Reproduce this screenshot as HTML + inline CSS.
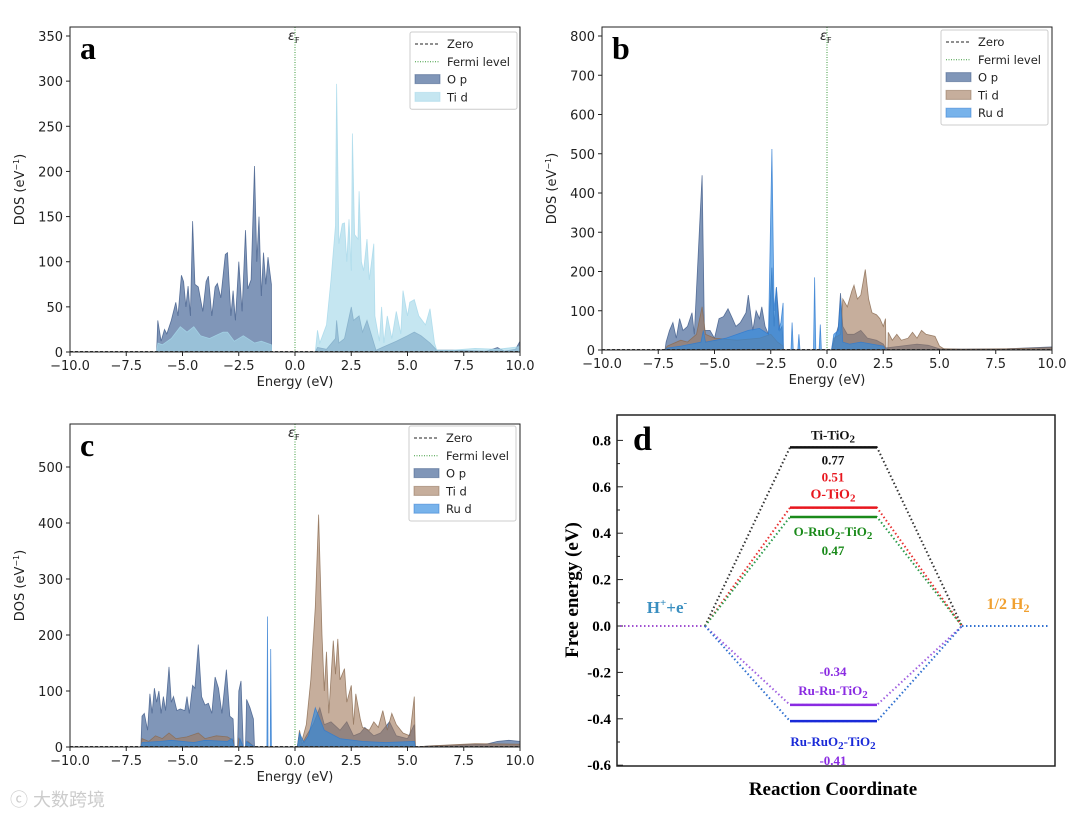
<!DOCTYPE html>
<html><head><meta charset="utf-8">
<style>
html,body{margin:0;padding:0;background:#fff;}
svg{display:block;font-family:"DejaVu Sans","Liberation Sans",sans-serif;}
</style></head>
<body>
<svg id="fig" width="1080" height="818" viewBox="0 0 1080 818">
<text x="10" y="806" font-size="18" fill="#ccc" font-family="'Liberation Sans','Noto Sans CJK SC',sans-serif">ⓒ 大数跨境</text>
</svg>
<script>
// ---------- Panel a data ----------
const aOpE=[-10,-6.15,-6.1,-5.95,-5.8,-5.7,-5.5,-5.3,-5.2,-5.05,-4.95,-4.85,-4.75,-4.65,-4.55,-4.45,-4.3,-4.1,-3.95,-3.85,-3.7,-3.55,-3.45,-3.3,-3.1,-3.0,-2.85,-2.75,-2.65,-2.5,-2.35,-2.2,-2.1,-1.95,-1.8,-1.7,-1.6,-1.5,-1.4,-1.3,-1.2,-1.05,-1.04,0.9,1.0,1.4,1.8,1.85,1.95,2.2,2.5,2.6,2.85,3.0,3.2,3.5,3.6,4.5,5.0,5.3,5.6,6.0,6.3,7,8.5,9,9.3,9.8,10];
const aOpV=[0,0,35,12,25,20,35,55,40,85,78,50,73,40,145,75,72,45,78,84,40,72,76,60,108,110,40,68,35,100,45,135,70,80,206,100,150,62,110,75,105,75,0,0,5,3,15,35,10,15,50,35,40,22,35,10,2,12,18,22,18,10,2,2,1,5,1,3,12];
const aTiE=[-10,-6.15,-6.1,-5.9,-5.5,-5.1,-4.8,-4.5,-4.2,-3.8,-3.2,-3.0,-2.7,-2.3,-1.8,-1.5,-1.05,-1.04,0.9,1.0,1.1,1.4,1.6,1.8,1.85,1.95,2.1,2.2,2.3,2.4,2.5,2.55,2.65,2.8,2.85,2.95,3.05,3.2,3.3,3.5,3.55,3.75,3.85,3.95,4.1,4.3,4.5,4.7,4.8,5.0,5.1,5.3,5.5,5.8,6.0,6.2,6.3,7,8,9,10];
const aTiV=[0,0,10,8,15,28,22,28,18,15,22,22,12,18,10,12,8,0,0,24,10,30,80,140,297,120,142,143,100,147,90,242,130,125,178,100,90,125,80,120,40,12,50,10,40,15,45,20,68,40,55,58,40,30,48,10,2,2,4,3,6];
// ---------- Panel b data ----------
const bOpE=[-10,-7.2,-7.15,-7.0,-6.85,-6.7,-6.55,-6.4,-6.2,-6.0,-5.9,-5.55,-5.45,-5.2,-5.0,-4.8,-4.6,-4.4,-4.2,-4.05,-3.85,-3.6,-3.5,-3.3,-3.15,-3.0,-2.9,-2.75,-2.6,-2.45,-2.35,-2.25,-2.1,-2.0,-1.95,-1.94,0.2,0.3,0.5,0.6,0.7,0.9,1.2,1.5,1.8,2.2,2.5,2.6,3.0,4.0,4.5,5.0,6,8,10];
const bOpV=[0,0,20,50,70,30,80,50,60,95,40,445,50,50,30,80,85,105,80,60,70,95,140,50,100,80,110,60,40,210,60,160,50,60,20,0,0,20,60,145,60,40,40,50,30,25,15,5,8,15,12,3,2,3,8];
const bTiE=[-10,-7.2,-7.1,-6.5,-6.2,-5.8,-5.55,-5.4,-5.0,-4.0,-3.0,-2.5,-2.2,-1.95,-1.94,0.2,0.3,0.6,0.7,0.9,1.1,1.2,1.35,1.5,1.7,1.85,2.0,2.2,2.35,2.5,2.6,2.62,2.7,2.72,2.9,3.1,3.3,3.6,3.8,4.0,4.2,4.4,4.8,5.0,5.2,6,8,10];
const bTiV=[0,0,10,25,20,40,110,40,30,25,30,40,20,10,0,0,30,40,130,110,150,165,130,140,205,130,95,90,80,60,80,0,0,45,25,40,25,30,45,30,50,40,35,10,3,2,3,6];
const bRuE=[-10,-7.2,-7.1,-6.5,-5.6,-5.5,-5.4,-4.5,-3.5,-3.0,-2.6,-2.45,-2.35,-2.25,-2.15,-2.05,-1.95,-1.94,-1.6,-1.55,-1.5,-1.3,-1.25,-1.2,-0.6,-0.55,-0.5,-0.35,-0.3,-0.25,0.2,0.3,0.5,0.6,0.7,1.0,1.5,2.5,2.6,10];
const bRuV=[0,0,5,10,20,50,20,30,50,55,40,512,100,160,50,70,120,0,0,70,0,0,40,0,0,185,0,0,65,0,0,40,50,130,20,15,20,10,0,0];
// ---------- Panel c data ----------
const cOpE=[-10,-6.85,-6.8,-6.7,-6.55,-6.45,-6.35,-6.25,-6.15,-6.05,-5.95,-5.85,-5.75,-5.6,-5.5,-5.4,-5.25,-5.1,-4.9,-4.8,-4.7,-4.55,-4.45,-4.3,-4.15,-4.0,-3.85,-3.7,-3.55,-3.4,-3.25,-3.05,-2.9,-2.75,-2.7,-2.55,-2.5,-2.4,-2.3,-2.2,-2.15,-2.0,-1.85,-1.8,0.1,0.2,0.3,0.5,0.8,1.1,1.3,1.6,2.0,2.3,2.6,2.9,3.1,3.5,3.8,4.2,4.5,5.0,5.3,5.35,6,7.5,8.5,9,9.5,10];
const cOpV=[0,0,55,60,30,95,60,105,80,100,60,90,65,143,80,90,65,68,65,90,60,110,105,183,90,75,78,60,125,105,60,138,55,50,0,0,100,118,0,0,85,70,50,0,0,25,5,20,40,70,40,45,30,45,20,25,35,20,25,45,20,15,40,0,2,4,5,10,12,10];
const cTiE=[-10,-6.85,-6.8,-6.5,-6.2,-5.9,-5.6,-5.3,-4.8,-4.3,-4.0,-3.5,-3.0,-2.75,-2.7,-2.55,-2.5,-2.3,-2.2,-2.1,-1.8,0.1,0.2,0.3,0.5,0.7,0.9,1.05,1.2,1.3,1.4,1.5,1.7,1.8,1.9,2.0,2.2,2.3,2.5,2.6,2.7,2.9,3.0,3.3,3.5,3.7,3.9,4.1,4.3,4.5,4.8,5.1,5.3,5.35,6,7,8,10];
const cTiV=[0,0,15,10,20,15,25,15,18,25,15,20,18,12,0,0,15,0,0,10,0,0,30,10,40,120,250,415,200,100,170,60,190,130,193,120,140,80,110,40,95,50,35,30,45,35,65,30,60,40,25,20,90,0,2,4,6,5];
const cRuE=[-10,-6.85,-6.8,-6,-5.5,-4.5,-4,-3,-2.8,-2.7,-2.5,-2.45,-2.3,-2.2,-2.15,-1.8,-1.25,-1.22,-1.2,-1.1,-1.08,-1.05,0.1,0.2,0.4,0.6,0.9,1.1,1.3,2,3,4,5.3,5.35,10];
const cRuV=[0,0,8,10,12,8,12,10,15,0,0,15,0,0,10,0,0,233,0,0,175,0,0,25,8,20,70,50,30,15,10,8,10,0,0];
// ---------- Panel d data ----------
const dNames=["Ti-TiO2","O-TiO2","O-RuO2-TiO2","Ru-Ru-TiO2","Ru-RuO2-TiO2"];
const dValues=[0.77,0.51,0.47,-0.34,-0.41];
const dYTicks=[0.8,0.6,0.4,0.2,0.0,-0.2,-0.4,-0.6];
const xTicks=[-10,-7.5,-5,-2.5,0,2.5,5,7.5,10];

const NS="http://www.w3.org/2000/svg";
const svg=document.getElementById('fig');
function mk(tag,attrs,parent){const e=document.createElementNS(NS,tag);for(const k in attrs)e.setAttribute(k,attrs[k]);(parent||svg).appendChild(e);return e;}

function dosPanel(cfg){
  const g=mk('g',{});
  
  
  const L=cfg.x0,R=cfg.x1,B=cfg.y0,T=cfg.top;
  const sx=e=>L+(e+10)/20*(R-L);
  const sy=v=>B-v/cfg.ymax*(B-cfg.ytop);
  const cp=mk('clipPath',{id:'clip'+cfg.id},g);
  mk('rect',{x:L,y:T,width:R-L,height:B-T},cp);
  const pg=mk('g',{'clip-path':'url(#clip'+cfg.id+')'},g);
  cfg.series.forEach(s=>{
    let d='M'+sx(s.E[0])+','+sy(0);
    for(let i=0;i<s.E.length;i++)d+=' L'+sx(s.E[i]).toFixed(1)+','+sy(s.V[i]).toFixed(1);
    d+=' L'+sx(s.E[s.E.length-1])+','+sy(0)+'Z';
    const p=mk('path',{d:d,fill:s.fill,'fill-opacity':s.op,stroke:s.stroke,'stroke-width':0.8,'stroke-opacity':0.8},pg);
    
    
  });
  const z=mk('line',{x1:L,x2:R,y1:B-0.5,y2:B-0.5,stroke:'#333','stroke-dasharray':'3,2','stroke-width':1},g);
  
  
  const f=mk('line',{x1:sx(0),x2:sx(0),y1:T,y2:B,stroke:'#3a9a3a','stroke-dasharray':'1,1.5','stroke-width':1},g);
  
  
  mk('rect',{x:L,y:T,width:R-L,height:B-T,fill:'none',stroke:'#222','stroke-width':1},g);
  xTicks.forEach(t=>{
    mk('line',{x1:sx(t),x2:sx(t),y1:B,y2:B+4,stroke:'#222'},g);
    const tx=mk('text',{x:sx(t),y:B+18,'font-size':13,'text-anchor':'middle',fill:'#222'},g);
    tx.textContent=(t<0?'−':'')+Math.abs(t).toFixed(1);
    
    
  });
  cfg.yticks.forEach(t=>{
    mk('line',{x1:L-4,x2:L,y1:sy(t),y2:sy(t),stroke:'#222'},g);
    const tx=mk('text',{x:L-7,y:sy(t)+5,'font-size':13,'text-anchor':'end',fill:'#222'},g);
    tx.textContent=t;
    
    
  });
  const xl=mk('text',{x:(L+R)/2,y:B+34,'font-size':13,'text-anchor':'middle',fill:'#222'},g);
  xl.textContent='Energy (eV)';
  
  
  const yl=mk('text',{x:0,y:0,'font-size':13,'text-anchor':'middle',fill:'#222',transform:'translate('+(L-46)+','+((T+B)/2)+') rotate(-90)'},g);
  yl.innerHTML='DOS (eV<tspan dy="-5" font-size="8">−1</tspan><tspan dy="5">)</tspan>';
  
  
  const ef=mk('text',{x:sx(0)-7,y:T+13,'font-size':13,'font-style':'italic',fill:'#222'},g);
  ef.innerHTML='ε<tspan dy="3" font-size="8" font-style="normal">F</tspan>';
  
  
  const pl=mk('text',{x:L+10,y:T+32,'font-size':32,'font-weight':'bold','font-family':'Liberation Serif,serif',fill:'#000'},g);
  pl.textContent=cfg.id;
  
  
  const lg=mk('g',{},g);
  
  
  const lx=cfg.lx,ly=cfg.ly,n=2+cfg.series.length;
  mk('rect',{x:lx,y:ly,width:107,height:n*17.8+6,rx:2,fill:'#fff',stroke:'#ccc'},lg);
  const items=[{t:'Zero',k:'dash'},{t:'Fermi level',k:'dot'}].concat(cfg.series.map(s=>({t:s.lab,k:'patch',s:s})));
  items.forEach((it,i)=>{
    const yy=ly+12+i*17.8;
    if(it.k==='dash')mk('line',{x1:lx+5,x2:lx+30,y1:yy,y2:yy,stroke:'#222','stroke-dasharray':'3,2'},lg);
    else if(it.k==='dot')mk('line',{x1:lx+5,x2:lx+30,y1:yy,y2:yy,stroke:'#3a9a3a','stroke-dasharray':'1,1.5'},lg);
    else mk('rect',{x:lx+5,y:yy-5,width:25,height:9,fill:it.s.fill,'fill-opacity':it.s.op,stroke:it.s.stroke,'stroke-opacity':0.5},lg);
    const tt=mk('text',{x:lx+37,y:yy+4,'font-size':11.5,fill:'#222'},lg);
    tt.textContent=it.t;
    
    
  });
}
const OP={fill:'#4a6a9a',op:0.7,stroke:'#3e5a88',lab:'O p',dn:'op-area'};
dosPanel({id:'a',name:'panel-a',x0:70,x1:520,y0:352,top:27,ytop:36,ymax:350,yticks:[0,50,100,150,200,250,300,350],lx:410,ly:32,
  series:[Object.assign({E:aOpE,V:aOpV},OP),{E:aTiE,V:aTiV,fill:'#a6d8ea',op:0.65,stroke:'#a6d8ea',lab:'Ti d',dn:'ti-d-area'}]});
dosPanel({id:'b',name:'panel-b',x0:602,x1:1052,y0:350,top:27,ytop:36,ymax:800,yticks:[0,100,200,300,400,500,600,700,800],lx:941,ly:30,
  series:[Object.assign({E:bOpE,V:bOpV},OP),{E:bTiE,V:bTiV,fill:'#a0785a',op:0.6,stroke:'#8a6a50',lab:'Ti d',dn:'ti-d-area'},{E:bRuE,V:bRuV,fill:'#2f8ae0',op:0.65,stroke:'#2f7ad0',lab:'Ru d',dn:'ru-d-area'}]});
dosPanel({id:'c',name:'panel-c',x0:70,x1:520,y0:747,top:424,ytop:467,ymax:500,yticks:[0,100,200,300,400,500],lx:409,ly:426,
  series:[Object.assign({E:cOpE,V:cOpV},OP),{E:cTiE,V:cTiV,fill:'#a0785a',op:0.6,stroke:'#8a6a50',lab:'Ti d',dn:'ti-d-area'},{E:cRuE,V:cRuV,fill:'#2f8ae0',op:0.65,stroke:'#2f7ad0',lab:'Ru d',dn:'ru-d-area'}]});

// ---------- Panel d ----------
(function(){
  const g=mk('g',{});
  
  
  const L=617,R=1055,T=415,B=766;
  const sy=v=>626-v/0.2*46.4;
  const serif='Liberation Serif,serif';
  mk('rect',{x:L,y:T,width:R-L,height:B-T,fill:'none',stroke:'#222','stroke-width':1.5},g);
  for(let k=-6;k<=8;k++){mk('line',{x1:L,x2:L+(Math.abs(k)%2===0?6:3),y1:sy(k/10),y2:sy(k/10),stroke:'#222'},g);}
  dYTicks.forEach(t=>{
    const tx=mk('text',{x:L-6,y:sy(t)+5,'font-size':15,'font-weight':'bold','text-anchor':'end','font-family':serif},g);
    tx.textContent=t.toFixed(1);
    
    
  });
  const yl=mk('text',{'font-size':19,'font-weight':'bold','text-anchor':'middle','font-family':serif,transform:'translate(578,590) rotate(-90)'},g);
  yl.textContent='Free energy (eV)';
  
  
  const xl=mk('text',{x:833,y:795,'font-size':19,'font-weight':'bold','text-anchor':'middle','font-family':serif},g);
  xl.textContent='Reaction Coordinate';
  
  
  const pl=mk('text',{x:633,y:450,'font-size':34,'font-weight':'bold','font-family':serif},g);
  pl.textContent='d';
  
  
  const cols=['#111','#e8161e','#1a8a1a','#8a2be2','#1a2ad8'];
  const dcols=['#333','#e83030','#2a9a4a','#a060e0','#3070d0'];
  const x1=705,x2=790,x3=877,x4=962;
  mk('line',{x1:620,x2:x1,y1:sy(0),y2:sy(0),stroke:'#a050d0','stroke-width':2,'stroke-dasharray':'1.5,2.5'},g);
  mk('line',{x1:x4,x2:1050,y1:sy(0),y2:sy(0),stroke:'#3070d0','stroke-width':2,'stroke-dasharray':'1.5,2.5'},g);
  dValues.forEach((v,i)=>{
    mk('polyline',{points:x1+','+sy(0)+' '+x2+','+sy(v)+' '+x3+','+sy(v)+' '+x4+','+sy(0),fill:'none',stroke:dcols[i],'stroke-width':2,'stroke-dasharray':'1.5,2.5'},g);
    const ln=mk('line',{x1:x2,x2:x3,y1:sy(v),y2:sy(v),stroke:cols[i],'stroke-width':2.5},g);
    
    
  });
  function lab(txt,x,y,c,size){
    const t=mk('text',{x:x,y:y,'font-size':size||13,'font-weight':'bold','text-anchor':'middle','font-family':serif,fill:c},g);
    t.innerHTML=txt;
    
    
  }
  const s2='<tspan baseline-shift="-25%" font-size="11">2</tspan>';
  lab('Ti-TiO'+s2,833,sy(dValues[0])-8,cols[0]);
  lab(dValues[0].toFixed(2),833,sy(dValues[0])+17,cols[0]);
  lab(dValues[1].toFixed(2),833,sy(dValues[1])-26,cols[1]);
  lab('O-TiO'+s2,833,sy(dValues[1])-9,cols[1],14);
  lab('O-RuO'+s2+'-TiO'+s2,833,sy(dValues[2])+19,cols[2]);
  lab(dValues[2].toFixed(2),833,sy(dValues[2])+38,cols[2]);
  lab(dValues[3].toFixed(2),833,sy(dValues[3])-29,cols[3]);
  lab('Ru-Ru-TiO'+s2,833,sy(dValues[3])-10,cols[3]);
  lab('Ru-RuO'+s2+'-TiO'+s2,833,sy(dValues[4])+25,cols[4]);
  lab(dValues[4].toFixed(2),833,sy(dValues[4])+44,cols[3]);
  lab('H<tspan dy="-7" font-size="11">+</tspan><tspan dy="7">+e</tspan><tspan dy="-7" font-size="11">-</tspan>',667,613,'#3a8fc0',17);
  lab('1/2 H<tspan baseline-shift="-25%" font-size="12">2</tspan>',1008,609,'#f0a030',16);
})();
</script>
</body></html>
